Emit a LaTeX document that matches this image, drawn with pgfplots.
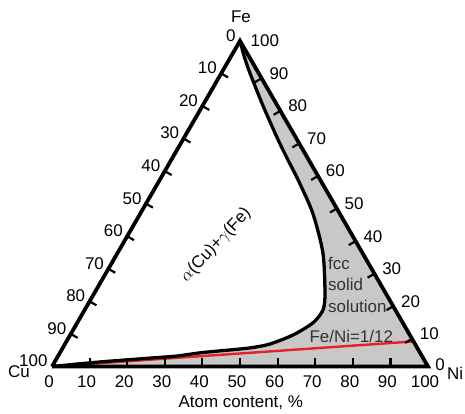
\documentclass[border=0pt]{standalone}
\usepackage{fontspec}
\setmainfont{Liberation Sans}
\usepackage{pgfplots}
\usepackage{pgfplotstable}
\pgfplotsset{compat=1.18}
\definecolor{fccgrey}{RGB}{200,200,200}
\definecolor{redline}{RGB}{232,30,40}
\definecolor{txtgrey}{RGB}{50,50,50}

% fcc boundary (atom %): Ni, Fe
\pgfplotstableread{
Ni Fe
0 100
3.3 95.5
7.1 90.7
15.8 80.4
24.8 70.2
30.5 64.0
36.8 57.3
45.8 47.1
54.6 34.9
61.3 22.6
63.4 17.4
62.7 13.4
59.3 9.7
54.5 6.9
49.8 5.7
42.3 4.8
37.3 4.2
31.6 3.2
27.3 2.8
12.1 1.4
0 0
}\fccbound

% Fe/Ni = 1/12 line
\pgfplotstableread{
Ni Fe
0 0
92.31 7.69
}\ratioline

% triangle
\pgfplotstableread{
Ni Fe
0 0
100 0
0 100
0 0
}\tritable

\begin{document}
\begin{tikzpicture}[font=\fontsize{17}{20}\selectfont]
\begin{axis}[
  x=3.76bp, y=3.76bp,
  xmin=-13.83, xmax=109.84,
  ymin=-12.63, ymax=97.47,
  hide axis, clip=false,
  tk/.style={black, line width=2.2pt, no marks, forget plot},
]
% grey fcc region
\addplot[fill=fccgrey, draw=none, forget plot]
  table[x expr={\thisrow{Ni}+0.5*\thisrow{Fe}}, y expr={0.8660254*\thisrow{Fe}}]{\fccbound}
  -- (axis cs:100,0) -- cycle;
% red line
\addplot[redline, line width=2.4pt, no marks]
  table[x expr={\thisrow{Ni}+0.5*\thisrow{Fe}}, y expr={0.8660254*\thisrow{Fe}}]{\ratioline};
% boundary curve
\addplot[black, line width=3.3pt, no marks, smooth, tension=0.45, line join=round]
  table[x expr={\thisrow{Ni}+0.5*\thisrow{Fe}}, y expr={0.8660254*\thisrow{Fe}}]{\fccbound};
% triangle
\addplot[black, line width=3.8pt, no marks, line join=miter]
  table[x expr={\thisrow{Ni}+0.5*\thisrow{Fe}}, y expr={0.8660254*\thisrow{Fe}}]{\tritable};

% tick labels
\pgfplotsinvokeforeach{0,10,...,100}{
  \node[anchor=center, inner sep=0pt] at (axis cs:#1-0.8,-4.1) {#1};
  \node[anchor=east, inner sep=0pt, xshift=-4.3bp, yshift=5.5bp] at (axis cs:{(100-#1)/2},{0.8660254*(100-#1)}) {#1};
}
\pgfplotsinvokeforeach{10,20,...,100}{
  \node[anchor=west, inner sep=0pt, xshift=10.5bp] at (axis cs:{100-#1/2},{0.8660254*#1}) {#1};
}
\node[anchor=center, inner sep=0pt] at (axis cs:103.2,0.6) {0};

% corner labels
\node[inner sep=0pt] at (axis cs:50.27,92.95) {Fe};
\node[inner sep=0pt] at (axis cs:-8.78,-1.46) {Cu};
\node[inner sep=0pt] at (axis cs:107.2,-1.73) {Ni};
\node[inner sep=0pt] at (axis cs:50.2,-9.7) {Atom content, \%};

% region labels
\node[rotate=47, inner sep=0pt] at (axis cs:43.6,32.3) {$\alpha$(Cu)+$\gamma$(Fe)};
\node[anchor=west, inner sep=0pt, text=txtgrey] at (axis cs:73.4,27.4) {fcc};
\node[anchor=west, inner sep=0pt, text=txtgrey] at (axis cs:73.4,21.7) {solid};
\node[anchor=west, inner sep=0pt, text=txtgrey] at (axis cs:73.4,16.0) {solution};
\node[inner sep=0pt, text=txtgrey] at (axis cs:79.6,8.0) {Fe/Ni=1/12};

% ticks: bottom edge
\addplot[tk] coordinates {(10,0) (10,2.2)};
\addplot[tk] coordinates {(20,0) (20,2.2)};
\addplot[tk] coordinates {(30,0) (30,2.2)};
\addplot[tk] coordinates {(40,0) (40,2.2)};
\addplot[tk] coordinates {(50,0) (50,2.2)};
\addplot[tk] coordinates {(60,0) (60,2.2)};
\addplot[tk] coordinates {(70,0) (70,2.2)};
\addplot[tk] coordinates {(80,0) (80,2.2)};
\addplot[tk] coordinates {(90,0) (90,2.2)};
% ticks: left edge (Cu)
\addplot[tk] coordinates {(45,77.94) (46.82,76.89)};
\addplot[tk] coordinates {(40,69.28) (41.82,68.23)};
\addplot[tk] coordinates {(35,60.62) (36.82,59.57)};
\addplot[tk] coordinates {(30,51.96) (31.82,50.91)};
\addplot[tk] coordinates {(25,43.30) (26.82,42.25)};
\addplot[tk] coordinates {(20,34.64) (21.82,33.59)};
\addplot[tk] coordinates {(15,25.98) (16.82,24.93)};
\addplot[tk] coordinates {(10,17.32) (11.82,16.27)};
\addplot[tk] coordinates {(5,8.66) (6.82,7.61)};
% ticks: right edge (Fe)
\addplot[tk] coordinates {(95.75,7.36) (93.93,6.31)};
\addplot[tk] coordinates {(90.75,16.02) (88.93,14.97)};
\addplot[tk] coordinates {(85.75,24.68) (83.93,23.63)};
\addplot[tk] coordinates {(80.75,33.34) (78.93,32.29)};
\addplot[tk] coordinates {(75.75,42.00) (73.93,40.95)};
\addplot[tk] coordinates {(70.75,50.66) (68.93,49.61)};
\addplot[tk] coordinates {(65.75,59.32) (63.93,58.27)};
\addplot[tk] coordinates {(60.75,67.98) (58.93,66.93)};
\addplot[tk] coordinates {(55.75,76.64) (53.93,75.59)};
\end{axis}
\path (current axis.south west) rectangle (current axis.north east);
\end{tikzpicture}
\end{document}
